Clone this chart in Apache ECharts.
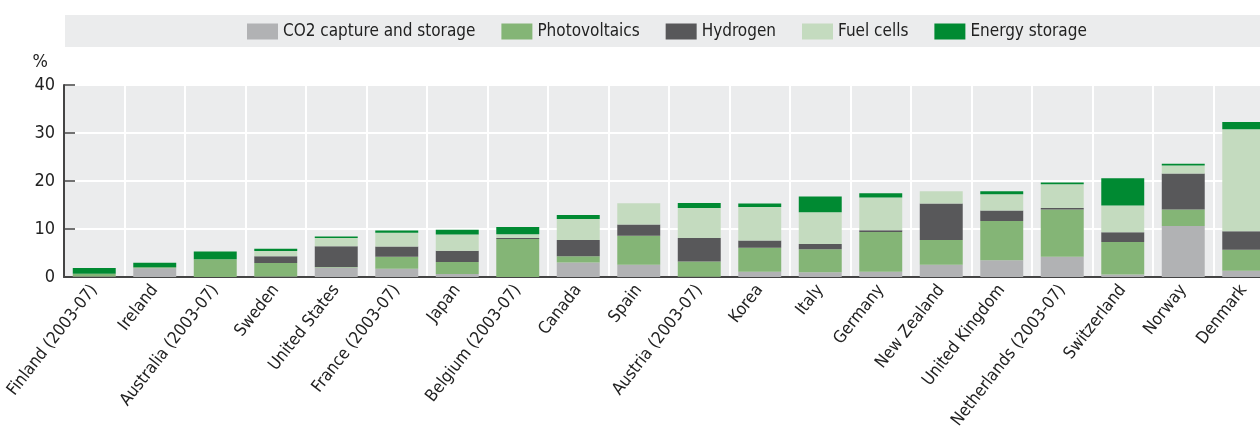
<!DOCTYPE html>
<html>
<head>
<meta charset="utf-8">
<script src="https://cdn.jsdelivr.net/npm/echarts@6/dist/echarts.min.js"></script>
<style>
  html, body { margin: 0; padding: 0; background: #fff; }
  #chart { width: 1260px; height: 434px; }
</style>
</head>
<body>
<div id="chart"></div>
<script>
// Share of environment-related technologies by field, per country (%)
const countries = [
  'Finland (2003-07)', 'Ireland', 'Australia (2003-07)', 'Sweden', 'United States',
  'France (2003-07)', 'Japan', 'Belgium (2003-07)', 'Canada', 'Spain',
  'Austria (2003-07)', 'Korea', 'Italy', 'Germany', 'New Zealand',
  'United Kingdom', 'Netherlands (2003-07)', 'Switzerland', 'Norway', 'Denmark'
];
const co2Capture    = [0.1, 1.8, 0.0, 0.1, 2.0, 1.7, 0.6, 0.0, 3.0, 2.55, 0.05, 1.1, 1.0, 1.1, 2.55, 3.5, 4.2, 0.5, 10.6, 1.3];
const photovoltaics = [0.6, 0.25, 3.7, 2.8, 0.1, 2.5, 2.5, 7.9, 1.3, 6.05, 3.2, 5.0, 4.8, 8.3, 5.15, 8.15, 9.85, 6.8, 3.45, 4.4];
const hydrogen      = [0.0, 0.0, 0.0, 1.4, 4.3, 2.15, 2.35, 0.25, 3.4, 2.35, 4.9, 1.5, 1.1, 0.35, 7.6, 2.2, 0.3, 2.0, 7.5, 3.85];
const fuelCells     = [0.0, 0.0, 0.0, 1.1, 1.7, 2.85, 3.4, 0.75, 4.4, 4.4, 6.25, 7.0, 6.6, 6.8, 2.55, 3.4, 4.95, 5.6, 1.7, 21.25];
const energyStorage = [1.2, 0.9, 1.6, 0.5, 0.35, 0.5, 1.0, 1.5, 0.8, 0.0, 1.0, 0.7, 3.25, 0.9, 0.0, 0.6, 0.4, 5.65, 0.35, 1.5];
const yTicks = [0, 10, 20, 30, 40];

const FONT = '"Liberation Sans Narrow", "DejaVu Sans Condensed", "Arial Narrow", sans-serif';

const seriesDefs = [
  { name: 'CO2 capture and storage', data: co2Capture,    color: '#b1b2b4' },
  { name: 'Photovoltaics',           data: photovoltaics, color: '#84b576' },
  { name: 'Hydrogen',                data: hydrogen,      color: '#58585a' },
  { name: 'Fuel cells',              data: fuelCells,     color: '#c4dbbf' },
  { name: 'Energy storage',          data: energyStorage, color: '#008a32' }
];

const chart = echarts.init(document.getElementById('chart'), null, { renderer: 'canvas' });

chart.setOption({
  animation: false,
  textStyle: { fontFamily: FONT },
  graphic: [{
    type: 'rect',
    shape: { x: 65, y: 15, width: 1195, height: 32 },
    style: { fill: '#ebeced' },
    silent: true,
    z: -1
  }],
  legend: {
    left: 247,
    top: 23,
    itemWidth: 31,
    itemHeight: 16,
    itemGap: 26,
    icon: 'rect',
    padding: 0,
    textStyle: { fontFamily: FONT, fontSize: 17, color: '#222' },
    data: seriesDefs.map(s => s.name)
  },
  grid: {
    left: 64,
    right: -14,
    top: 85,
    bottom: 157,
    show: true,
    backgroundColor: '#ebeced',
    borderWidth: 0,
    containLabel: false,
    outerBoundsMode: 'none'
  },
  xAxis: {
    type: 'category',
    data: countries,
    axisLine: { show: true, lineStyle: { color: '#444', width: 2 } },
    axisTick: { show: false },
    splitLine: { show: true, lineStyle: { color: '#ffffff', width: 2 } },
    axisLabel: {
      interval: 0,
      rotate: 52,
      margin: 10,
      fontFamily: FONT,
      fontSize: 17,
      color: '#222'
    }
  },
  yAxis: {
    type: 'value',
    min: yTicks[0],
    max: yTicks[yTicks.length - 1],
    interval: 10,
    name: '%',
    nameLocation: 'end',
    nameGap: 14,
    nameTextStyle: { fontFamily: FONT, fontSize: 18, color: '#222', align: 'right', padding: [0, 16, 0, 0] },
    axisLine: { show: true, lineStyle: { color: '#444', width: 2 } },
    axisTick: { show: true, inside: true, length: 11, lineStyle: { color: '#444', width: 1.5 } },
    splitLine: { show: true, lineStyle: { color: '#ffffff', width: 2 } },
    axisLabel: { fontFamily: FONT, fontSize: 18, color: '#222', margin: 9 }
  },
  series: seriesDefs.map(s => ({
    name: s.name,
    type: 'bar',
    stack: 'total',
    data: s.data,
    barCategoryGap: '29%',
    itemStyle: { color: s.color },
    emphasis: { disabled: true }
  }))
});
</script>
</body>
</html>
